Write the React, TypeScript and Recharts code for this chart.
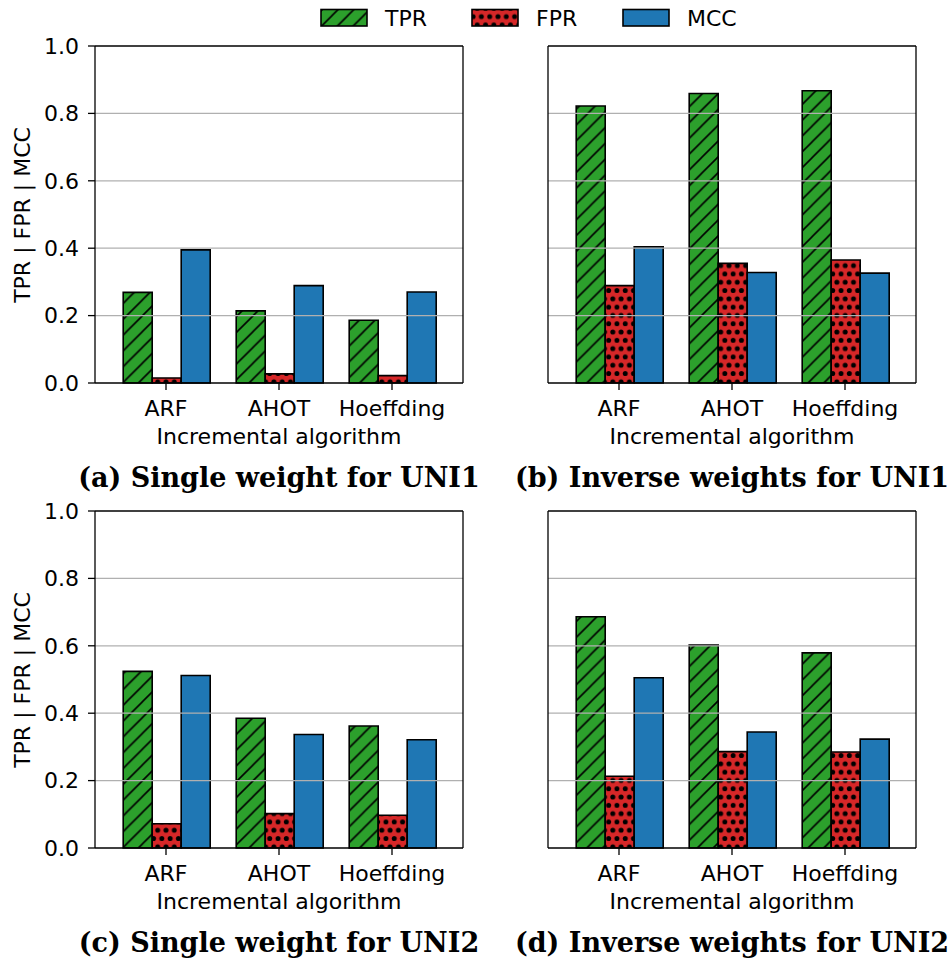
import React from 'react';
import { BarChart, Bar, XAxis, YAxis, ReferenceLine } from 'recharts';

const algorithms = ['ARF', 'AHOT', 'Hoeffding'];
const metrics = ['TPR', 'FPR', 'MCC'];
const yTicks = [0, 0.2, 0.4, 0.6, 0.8, 1.0];
const gridTicks = [0.2, 0.4, 0.6, 0.8];

// (a) single weight, UNI1
const tprSingleUni1 = [0.269, 0.214, 0.186];
const fprSingleUni1 = [0.015, 0.027, 0.022];
const mccSingleUni1 = [0.395, 0.289, 0.270];

// (b) inverse weights, UNI1
const tprInverseUni1 = [0.822, 0.859, 0.867];
const fprInverseUni1 = [0.289, 0.355, 0.365];
const mccInverseUni1 = [0.404, 0.328, 0.326];

// (c) single weight, UNI2
const tprSingleUni2 = [0.524, 0.385, 0.362];
const fprSingleUni2 = [0.072, 0.102, 0.097];
const mccSingleUni2 = [0.512, 0.337, 0.321];

// (d) inverse weights, UNI2
const tprInverseUni2 = [0.686, 0.602, 0.579];
const fprInverseUni2 = [0.213, 0.286, 0.285];
const mccInverseUni2 = [0.505, 0.344, 0.323];

const titles = [
    '(a) Single weight for UNI1',
    '(b) Inverse weights for UNI1',
    '(c) Single weight for UNI2',
    '(d) Inverse weights for UNI2',
];

const fills: Record<string, string> = {
    TPR: 'url(#hatchTPR)',
    FPR: 'url(#dotsFPR)',
    MCC: '#1f77b4',
};

const panels = [
    { row: 0, col: 0, tpr: tprSingleUni1, fpr: fprSingleUni1, mcc: mccSingleUni1 },
    { row: 0, col: 1, tpr: tprInverseUni1, fpr: fprInverseUni1, mcc: mccInverseUni1 },
    { row: 1, col: 0, tpr: tprSingleUni2, fpr: fprSingleUni2, mcc: mccSingleUni2 },
    { row: 1, col: 1, tpr: tprInverseUni2, fpr: fprInverseUni2, mcc: mccInverseUni2 },
];

const FONT = 'DejaVu Sans, sans-serif';
const axisStroke = { stroke: '#000', strokeWidth: 1.3 };

// hatch spacing for the TPR diagonals and the FPR dot grid
const HATCH = 15.8;
const DOT = 8.3;
const DOT_R = 2.5;

const Panel: React.FC<{ panel: typeof panels[number] }> = ({ panel }) => {
    const data = algorithms.map((name, i) => ({
        name,
        TPR: panel.tpr[i],
        FPR: panel.fpr[i],
        MCC: panel.mcc[i],
    }));
    const isLeft = panel.col === 0;

    return (
        <div style={{ position: 'absolute', left: isLeft ? 0 : 480, top: panel.row === 0 ? 0 : 465 }}>
            <BarChart
                width={isLeft ? 480 : 471}
                height={460}
                data={data}
                margin={{ top: 45, right: isLeft ? 16 : 34, bottom: 47, left: isLeft ? 35 : 8 }}
                barGap={0}
                barCategoryGap={13.7}
                style={{ fontFamily: FONT }}
            >
                <XAxis
                    dataKey="name"
                    height={30}
                    padding={{ left: 14.5, right: 14.5 }}
                    axisLine={axisStroke}
                    tickLine={axisStroke}
                    tickSize={7}
                    tickMargin={10}
                    tick={{ fill: '#000', fontSize: 22 }}
                    label={{ value: 'Incremental algorithm', position: 'bottom', offset: 15, fill: '#000', fontSize: 22 }}
                />
                {/* top and right frame lines */}
                <XAxis xAxisId="top" orientation="top" dataKey="name" height={1} tick={false} tickLine={false} axisLine={axisStroke} />
                <YAxis
                    domain={[0, 1]}
                    ticks={yTicks}
                    width={60}
                    axisLine={axisStroke}
                    tickLine={axisStroke}
                    tickSize={7}
                    tickMargin={9}
                    tick={isLeft ? { fill: '#000', fontSize: 22 } : false}
                    tickFormatter={(v: number) => v.toFixed(1)}
                />
                <YAxis yAxisId="right" orientation="right" domain={[0, 1]} width={1} tick={false} tickLine={false} axisLine={axisStroke} />
                {metrics.map((m) => (
                    <Bar key={m} dataKey={m} fill={fills[m]} stroke="#000" strokeWidth={1.6} isAnimationActive={false} />
                ))}
                {gridTicks.map((t) => (
                    <ReferenceLine key={t} y={t} stroke="#b0b0b0" strokeWidth={1.2} />
                ))}
            </BarChart>
        </div>
    );
};

const legendItems = [
    { name: 'TPR', x: 321 },
    { name: 'FPR', x: 472 },
    { name: 'MCC', x: 623 },
];

export default function App() {
    return (
        <div style={{ position: 'absolute', left: 0, top: 0, width: 951, height: 959, background: '#fff' }}>
            <svg width={0} height={0} style={{ position: 'absolute' }}>
                <defs>
                    <pattern id="hatchTPR" patternUnits="userSpaceOnUse" width={HATCH} height={HATCH}>
                        <rect width={HATCH} height={HATCH} fill="#2ca02c" />
                        <path
                            d={`M-1,${HATCH + 1} L${HATCH + 1},-1 M-2,2 L2,-2 M${HATCH - 2},${HATCH + 2} L${HATCH + 2},${HATCH - 2}`}
                            stroke="#000"
                            strokeWidth={1.6}
                        />
                    </pattern>
                    <pattern id="dotsFPR" patternUnits="userSpaceOnUse" width={DOT} height={DOT * 2}>
                        <rect width={DOT} height={DOT * 2} fill="#d62728" />
                        <circle cx={0} cy={0} r={DOT_R} fill="#000" />
                        <circle cx={DOT} cy={0} r={DOT_R} fill="#000" />
                        <circle cx={0} cy={DOT * 2} r={DOT_R} fill="#000" />
                        <circle cx={DOT} cy={DOT * 2} r={DOT_R} fill="#000" />
                        <circle cx={DOT / 2} cy={DOT} r={DOT_R} fill="#000" />
                    </pattern>
                </defs>
            </svg>

            {panels.map((p, i) => (
                <Panel key={i} panel={p} />
            ))}

            <svg width={951} height={959} style={{ position: 'absolute', left: 0, top: 0, pointerEvents: 'none' }}>
                {legendItems.map((item) => (
                    <g key={item.name}>
                        <rect x={item.x} y={9.5} width={46} height={16.5} fill={fills[item.name]} stroke="#000" strokeWidth={1.6} />
                        <text x={item.x + 64} y={26} fontFamily={FONT} fontSize={22} fill="#000">
                            {item.name}
                        </text>
                    </g>
                ))}
                {[215, 680].map((cy) => (
                    <text
                        key={cy}
                        x={22}
                        y={cy}
                        transform={`rotate(-90 22 ${cy})`}
                        textAnchor="middle"
                        dominantBaseline="central"
                        fontFamily={FONT}
                        fontSize={22}
                        fill="#000"
                    >
                        TPR | FPR | MCC
                    </text>
                ))}
                {titles.map((t, i) => (
                    <text
                        key={t}
                        x={i % 2 === 0 ? 279 : 732}
                        y={i < 2 ? 487 : 952}
                        textAnchor="middle"
                        fontFamily="DejaVu Serif, serif"
                        fontWeight="bold"
                        fontSize={27}
                        fill="#000"
                    >
                        {t}
                    </text>
                ))}
            </svg>
        </div>
    );
}
